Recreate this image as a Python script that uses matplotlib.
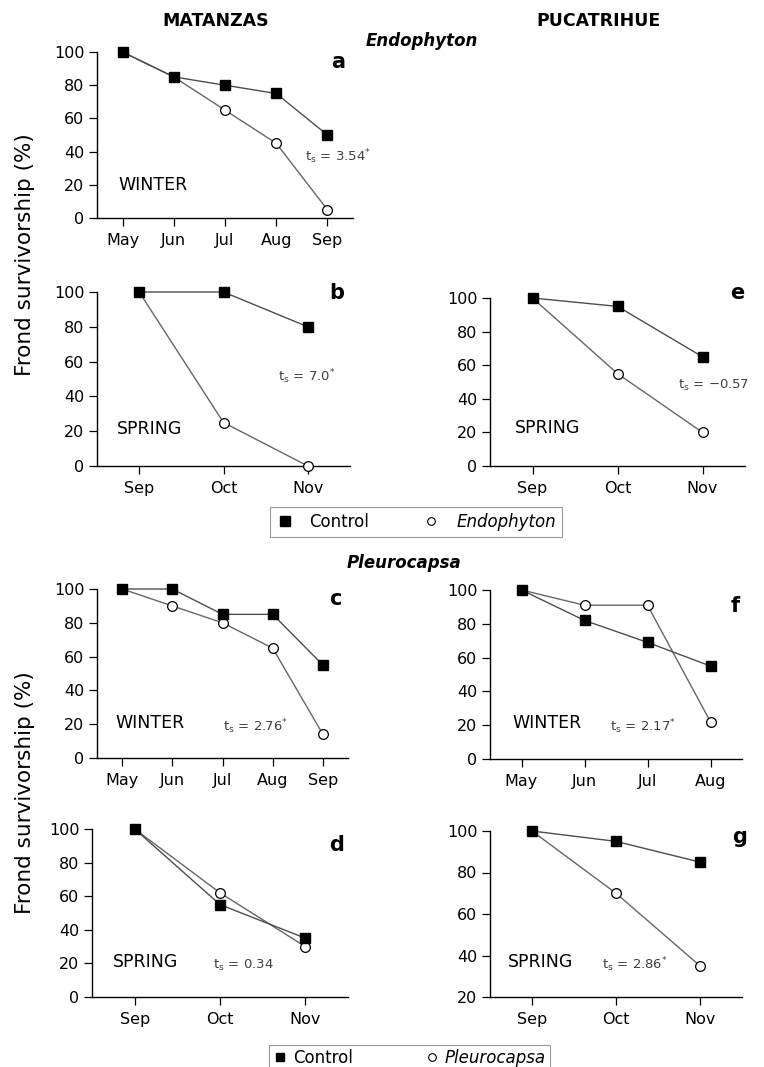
import matplotlib
matplotlib.use("Agg")
import matplotlib.pyplot as plt
from matplotlib.lines import Line2D

plt.rcParams['font.family'] = ['DejaVu Sans']
plt.rcParams['mathtext.fontset'] = 'dejavusans'

# ---- data ----
winter_months_mat = ["May", "Jun", "Jul", "Aug", "Sep"]
winter_months_puc = ["May", "Jun", "Jul", "Aug"]
spring_months = ["Sep", "Oct", "Nov"]

a_control = [100, 85, 80, 75, 50]
a_endo = [100, 85, 65, 45, 5]
b_control = [100, 100, 80]
b_endo = [100, 25, 0]
e_control = [100, 95, 65]
e_endo = [100, 55, 20]
c_control = [100, 100, 85, 85, 55]
c_pleuro = [100, 90, 80, 65, 14]
f_control = [100, 82, 69, 55]
f_pleuro = [100, 91, 91, 22]
d_control = [100, 55, 35]
d_pleuro = [100, 62, 30]
g_control = [100, 95, 85]
g_pleuro = [100, 70, 35]

W, H = 764, 1067
fig = plt.figure(figsize=(W / 100, H / 100), dpi=100)


def fx(x):
    return x / W


def fy(y):
    return 1 - y / H


def make_ax(l, r, t, b):
    return fig.add_axes([l / W, 1 - b / H, (r - l) / W, (b - t) / H])


def ftext(x, y, s, **kw):
    kw.setdefault('ha', 'left')
    kw.setdefault('va', 'center')
    return fig.text(fx(x), fy(y), s, **kw)


def panel(ax, months, ctrl, trt, ylim, yticks):
    x = list(range(len(months)))
    ax.plot(x, trt, color='0.4', lw=1.0, marker='o', ms=7, mfc='white', mec='black',
            mew=0.9, zorder=3, clip_on=False)
    ax.plot(x, ctrl, color='0.3', lw=1.0, marker='s', ms=6.5, mfc='black', mec='black',
            zorder=4, clip_on=False)
    ax.set_xlim(-0.5, len(months) - 0.5)
    ax.set_ylim(*ylim)
    ax.set_yticks(yticks)
    ax.set_xticks(x)
    ax.set_xticklabels(months)
    for s in ['top', 'right']:
        ax.spines[s].set_visible(False)
    for s in ['left', 'bottom']:
        ax.spines[s].set_linewidth(1.0)
    ax.tick_params(labelsize=11.5, length=6, width=0.9, direction='out', pad=3)
    ax.tick_params(axis='x', pad=5)
    ax.patch.set_alpha(0)


std = [0, 20, 40, 60, 80, 100]
ax_a = make_ax(97, 353, 52, 218)
panel(ax_a, winter_months_mat, a_control, a_endo, (0, 100), std)
ax_b = make_ax(97, 350, 292, 466)
panel(ax_b, spring_months, b_control, b_endo, (0, 100), std)
ax_e = make_ax(490, 745, 298, 466)
panel(ax_e, spring_months, e_control, e_endo, (0, 100), std)
ax_c = make_ax(97, 348, 589, 758)
panel(ax_c, winter_months_mat, c_control, c_pleuro, (0, 100), std)
ax_f = make_ax(490, 742, 590, 759)
panel(ax_f, winter_months_puc, f_control, f_pleuro, (0, 100), std)
ax_d = make_ax(92, 348, 829, 997)
panel(ax_d, spring_months, d_control, d_pleuro, (0, 100), std)
ax_g = make_ax(490, 742, 831, 997)
panel(ax_g, spring_months, g_control, g_pleuro, (20, 100), [20, 40, 60, 80, 100])

# panel letters
letters = [('a', 338, 62), ('b', 337, 293), ('e', 737, 293), ('c', 335, 599),
           ('f', 735, 606), ('d', 337, 845), ('g', 740, 837)]
for s, x, y in letters:
    ftext(x, y, s, fontsize=15, fontweight='bold', ha='center')

# season labels
seasons = [('WINTER', 118, 185), ('SPRING', 117, 429), ('SPRING', 515, 428),
           ('WINTER', 115, 723), ('WINTER', 512, 723), ('SPRING', 113, 962),
           ('SPRING', 508, 962)]
for s, x, y in seasons:
    ftext(x, y, s, fontsize=12.5)

# statistics
stats = [(r'$\mathregular{t_s}$ = 3.54$^{*}$', 305, 157),
         (r'$\mathregular{t_s}$ = 7.0$^{*}$', 278, 377),
         (r'$\mathregular{t_s}$ = $-$0.57', 678, 385),
         (r'$\mathregular{t_s}$ = 2.76$^{*}$', 223, 727),
         (r'$\mathregular{t_s}$ = 2.17$^{*}$', 610, 727),
         (r'$\mathregular{t_s}$ = 0.34', 213, 965),
         (r'$\mathregular{t_s}$ = 2.86$^{*}$', 602, 965)]
for s, x, y in stats:
    ftext(x, y, s, fontsize=9.5, color='0.25')

# Titles
ftext(216, 21, 'MATANZAS', fontsize=12.5, fontweight='bold', ha='center')
ftext(598, 21, 'PUCATRIHUE', fontsize=12.5, fontweight='bold', ha='center')
ftext(422, 41, 'Endophyton', fontsize=12, fontweight='bold', style='italic', ha='center')
ftext(404, 563, 'Pleurocapsa', fontsize=12, fontweight='bold', style='italic', ha='center')

# Y labels
ftext(25, 255, 'Frond survivorship (%)', fontsize=15.5, rotation=90, ha='center')
ftext(25, 793, 'Frond survivorship (%)', fontsize=15.5, rotation=90, ha='center')

# Legends
h_ctrl = Line2D([], [], ls='none', marker='s', ms=7, mfc='black', mec='black')
h_trt = Line2D([], [], ls='none', marker='o', ms=5.5, mfc='white', mec='black', mew=0.8)

leg1 = fig.legend([h_ctrl, h_trt], ['Control', 'Endophyton'], loc='center',
                  bbox_to_anchor=(fx(416), fy(522)), ncol=2, frameon=True, fancybox=False,
                  edgecolor='0.5', fontsize=12, columnspacing=3.2, handletextpad=1.0,
                  borderpad=0.35, handlelength=1.0)
leg1.get_frame().set_linewidth(0.8)
leg1.get_texts()[1].set_style('italic')

h_ctrl2 = Line2D([], [], ls='none', marker='s', ms=5.5, mfc='black', mec='black')
leg2 = fig.legend([h_ctrl2, h_trt], ['Control', 'Pleurocapsa'], loc='upper center',
                  bbox_to_anchor=(fx(409), fy(1037)), ncol=2, frameon=True, fancybox=False,
                  edgecolor='0.5', fontsize=12, columnspacing=4.2, handletextpad=0.3,
                  borderpad=0.2, handlelength=1.0)
leg2.get_frame().set_linewidth(0.8)
leg2.get_texts()[1].set_style('italic')

fig.savefig('out.png', dpi=100)
